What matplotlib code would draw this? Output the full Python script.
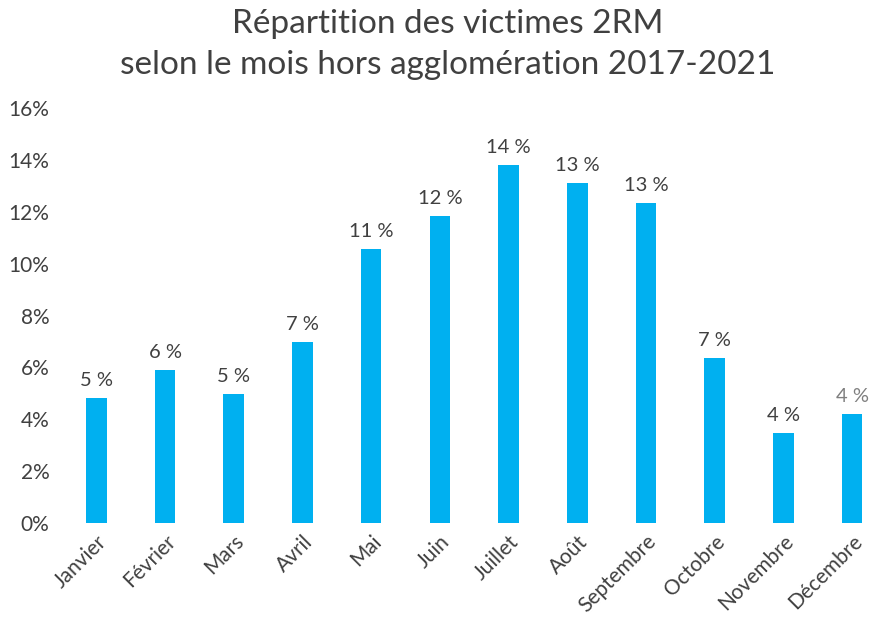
import matplotlib.pyplot as plt
from matplotlib.ticker import FuncFormatter

plt.rcParams['font.family'] = ['Lato', 'DejaVu Sans']

# data
mois = ['Janvier', 'Février', 'Mars', 'Avril', 'Mai', 'Juin', 'Juillet',
        'Août', 'Septembre', 'Octobre', 'Novembre', 'Décembre']
parts = [4.82, 5.90, 4.97, 6.98, 10.56, 11.83, 13.80, 13.10, 12.34, 6.36, 3.47, 4.20]
etiquettes = ['5 %', '6 %', '5 %', '7 %', '11 %', '12 %', '14 %', '13 %', '13 %',
              '7 %', '4 %', '4 %']

bar_color = '#00B0F0'
text_color = '#404040'

fig = plt.figure(figsize=(8.74, 6.2), dpi=100)
ax = fig.add_axes([62 / 874, 97 / 620, 1 - 62 / 874, 415 / 620])

x = list(range(len(mois)))
bars = ax.bar(x, parts, width=0.3, color=bar_color)

# value labels above each bar, last one drawn lighter as in the source
for i, (b, lab) in enumerate(zip(bars, etiquettes)):
    col = '#7F7F7F' if i == len(mois) - 1 else text_color
    ax.text(b.get_x() + b.get_width() / 2, b.get_height() + 0.35, lab,
            ha='center', va='bottom', fontsize=14.5, color=col)

ax.set_xlim(-0.5, 11.32)
ax.set_ylim(0, 16)
ax.set_yticks(range(0, 17, 2))
ax.yaxis.set_major_formatter(FuncFormatter(lambda v, p: f'{int(v)}%'))
ax.set_xticks(x)
ax.set_xticklabels(mois, rotation=45, ha='right', rotation_mode='anchor')

ax.tick_params(axis='both', length=0, labelsize=15, colors=text_color)
ax.tick_params(axis='y', pad=9)
ax.tick_params(axis='x', pad=6)
for s in ax.spines.values():
    s.set_visible(False)

fig.text(0.512, 0.985, 'Répartition des victimes 2RM\nselon le mois hors agglomération 2017-2021',
         ha='center', va='top', fontsize=24, color=text_color, linespacing=1.45)

fig.savefig('out.png', dpi=100, facecolor='white')
